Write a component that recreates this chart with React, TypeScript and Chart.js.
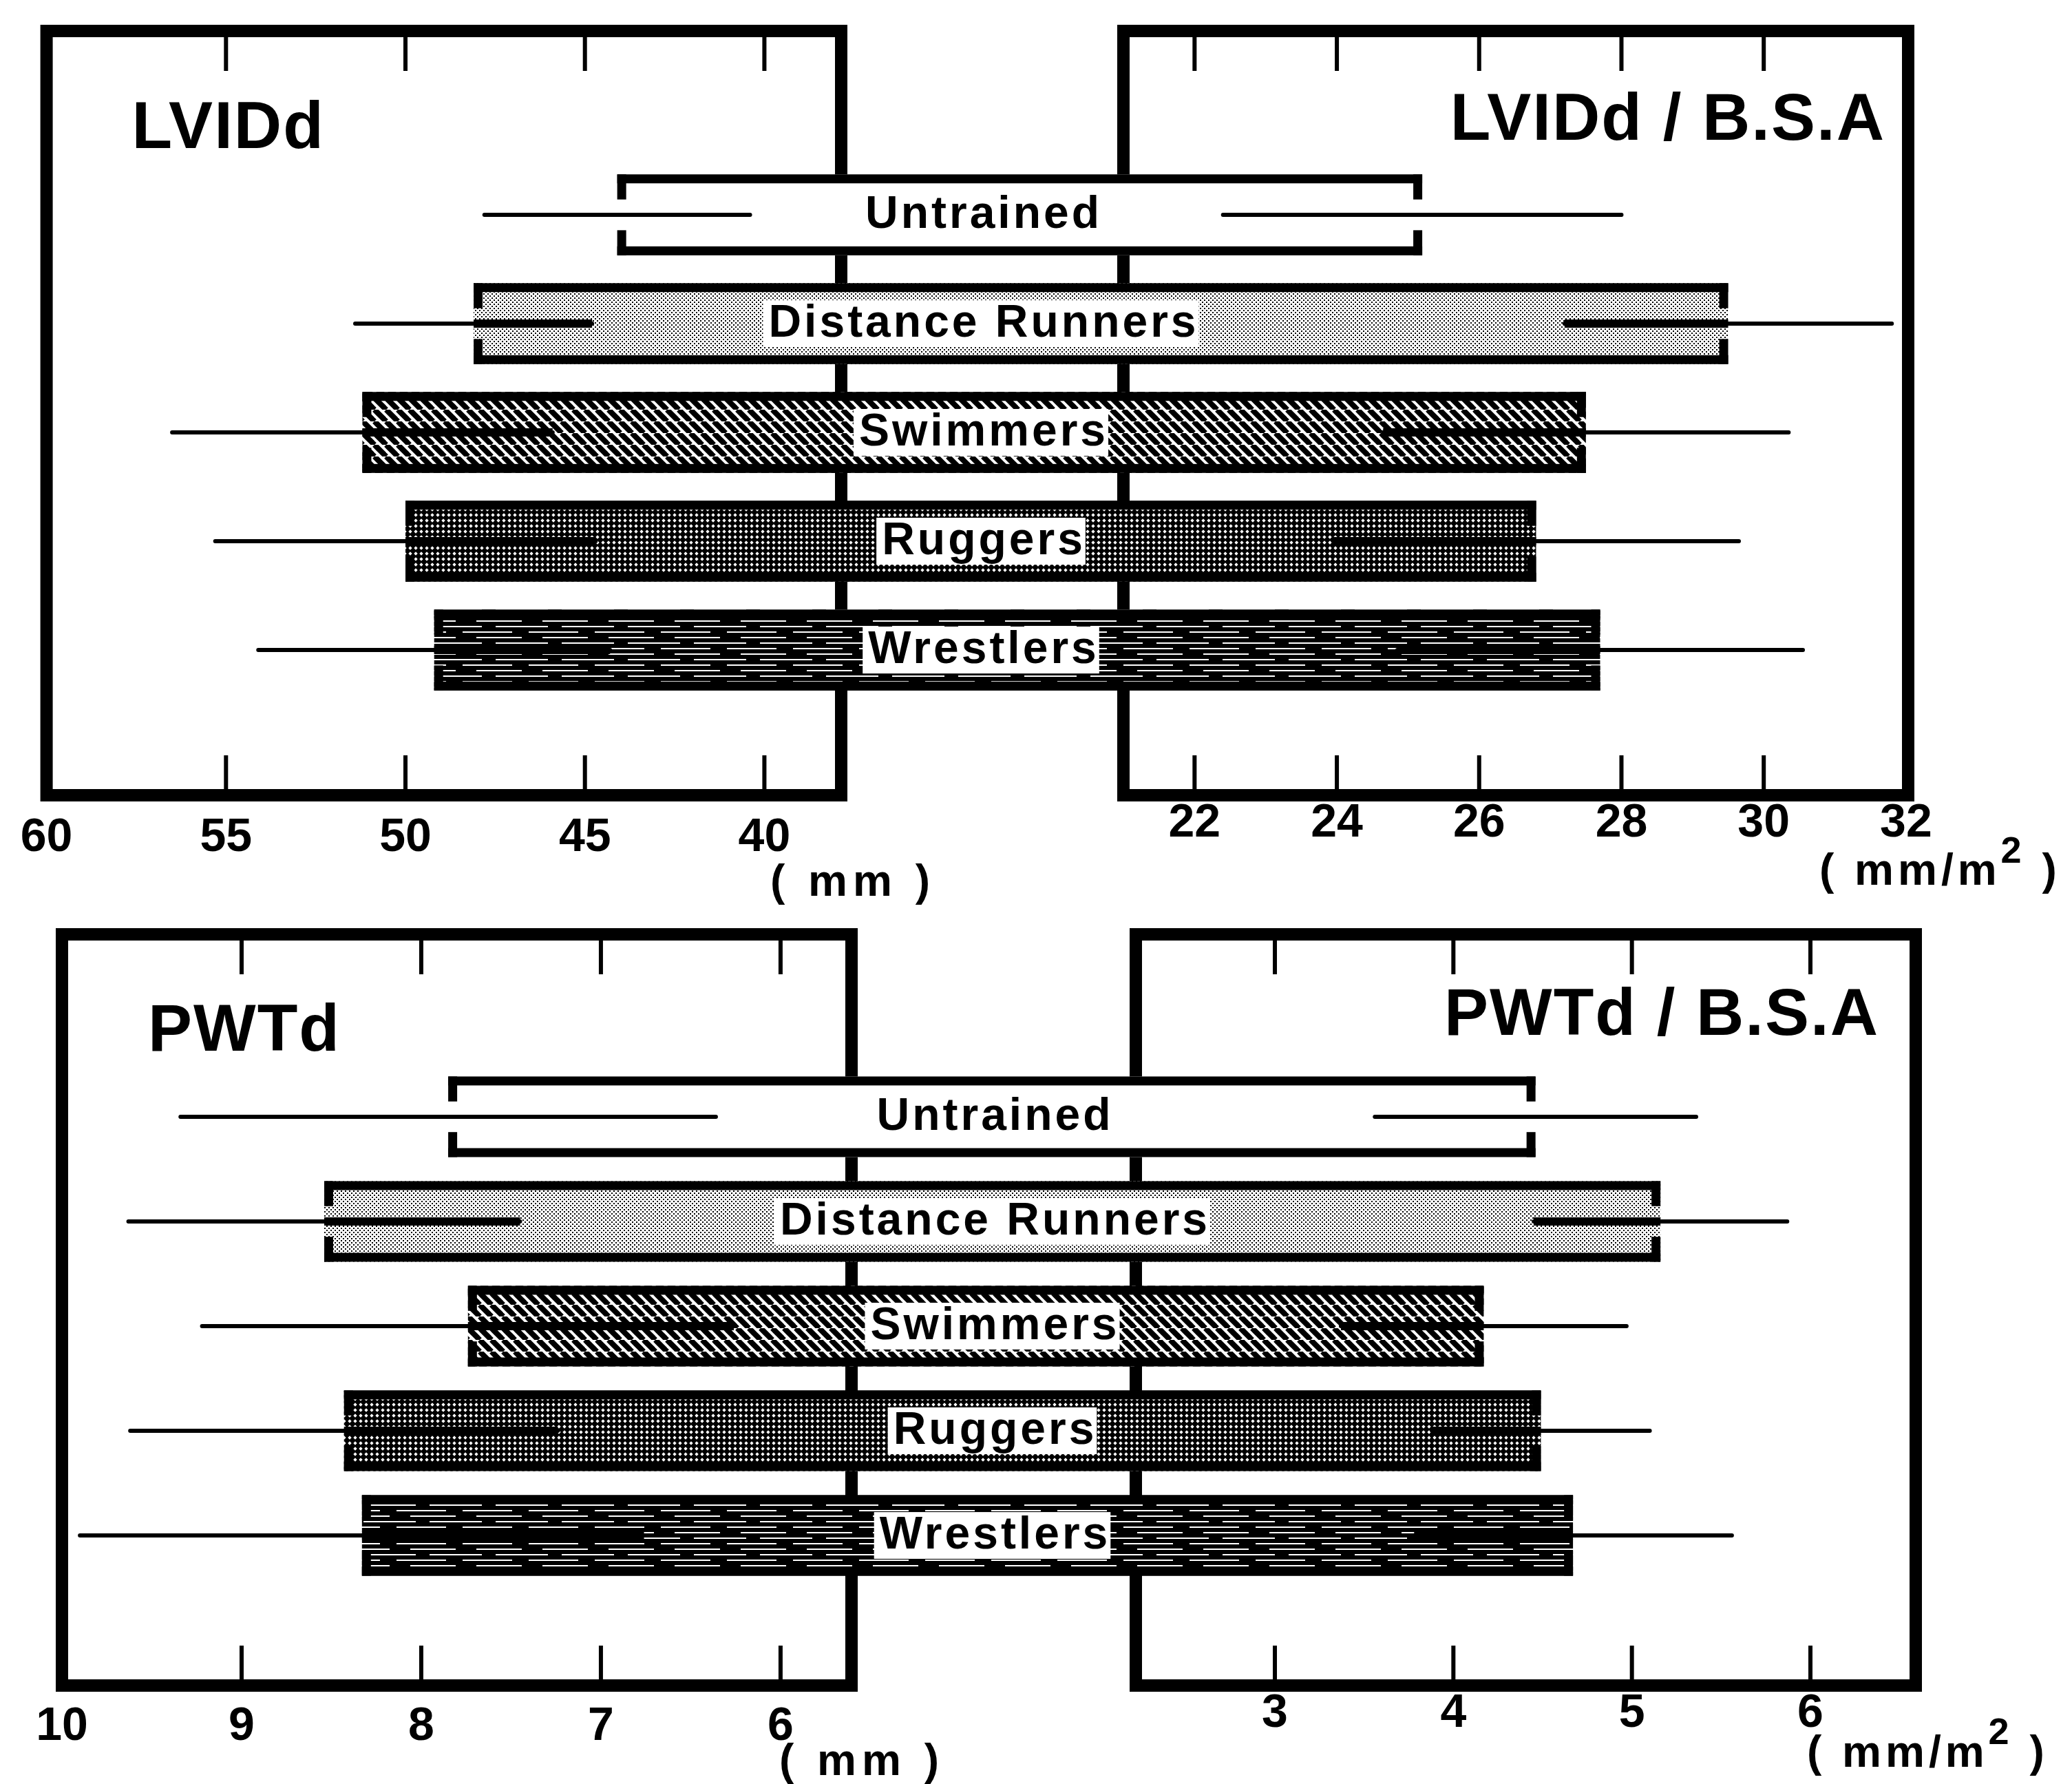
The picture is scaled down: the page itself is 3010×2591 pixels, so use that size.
import React, { useEffect, useRef } from 'react';
import { Chart, registerables } from 'chart.js';

Chart.register(...registerables);

// ---------------- data ----------------
const GROUPS = ['Untrained', 'Distance Runners', 'Swimmers', 'Ruggers', 'Wrestlers'];
const FILLS = ['none', 'stipple', 'hatch', 'cross', 'lines'];

// LVIDd (mm) and LVIDd / B.S.A (mm/m2): mean and SD
const LVIDD_MEAN = [44.1, 48.1, 51.2, 50.0, 49.2];
const LVIDD_SD = [3.7, 3.3, 5.3, 5.3, 4.9];
const LVIDD_BSA_MEAN = [25.2, 29.5, 27.5, 26.8, 27.7];
const LVIDD_BSA_SD = [2.8, 2.3, 2.85, 2.85, 2.85];

// PWTd (mm) and PWTd / B.S.A (mm/m2): mean and SD
const PWTD_MEAN = [7.85, 8.54, 7.74, 8.43, 8.33];
const PWTD_SD = [1.49, 1.09, 1.48, 1.19, 1.57];
const PWTD_BSA_MEAN = [4.46, 5.16, 4.17, 4.49, 4.67];
const PWTD_BSA_SD = [0.9, 0.71, 0.8, 0.61, 0.89];

// tick labels
const LVIDD_TICKS = [60, 55, 50, 45, 40];
const LVIDD_BSA_TICKS = [22, 24, 26, 28, 30, 32];
const PWTD_TICKS = [10, 9, 8, 7, 6];
const PWTD_BSA_TICKS = [3, 4, 5, 6];

const FONT = '"Liberation Sans", Arial, Helvetica, sans-serif';
Chart.defaults.font.family = FONT;

// ---------------- panel specs ----------------
const TOP = {
  canvasTop: 0,
  canvasHeight: 1330,
  meanL: LVIDD_MEAN, sdL: LVIDD_SD, meanR: LVIDD_BSA_MEAN, sdR: LVIDD_BSA_SD,
  ticksL: LVIDD_TICKS, ticksR: LVIDD_BSA_TICKS,
  minL: 37.86, maxL: 60, minR: 21, maxR: 32.03,
  titleL: 'LVIDd', titleR: 'LVIDd / B.S.A',
  unitL: '( mm )', unitR: ['( mm/m', '2', ' )'],
  style: {
    padL: 67.6, padR: 238, padT: 45, axisH: 175,
    wL: 1154.4, wG: 410, wR: 1140,
    yMin: -1.69, yMax: 5.335, barHalf: 0.372,
    tickPadL: 21, tickPadR: 0,
    titleLdx: 124, titleLy: 215, titleRdx: -33, titleRy: 203,
    unitLdx: 17, unitLy: 1301, unitRdx: -129, unitRy: 1285, supRise: 32,
  },
};

const BOTTOM = {
  canvasTop: 1300,
  canvasHeight: 1291,
  meanL: PWTD_MEAN, sdL: PWTD_SD, meanR: PWTD_BSA_MEAN, sdR: PWTD_BSA_SD,
  ticksL: PWTD_TICKS, ticksR: PWTD_BSA_TICKS,
  minL: 5.605, maxL: 10, minR: 2.221, maxR: 6.59,
  titleL: 'PWTd', titleR: 'PWTd / B.S.A',
  unitL: '( mm )', unitR: ['( mm/m', '2', ' )'],
  style: {
    padL: 90, padR: 227, padT: 57, axisH: 143,
    wL: 1147, wG: 413, wR: 1133,
    yMin: -1.743, yMax: 5.434, barHalf: 0.385,
    tickPadL: 19, tickPadR: 0,
    titleLdx: 125, titleLy: 226, titleRdx: -53, titleRy: 203,
    unitLdx: 15, unitLy: 1278, unitRdx: -158, unitRy: 1266, supRise: 33,
  },
};

const BOX_LINE = 18;
const TICK_LINE = 6;
const TICK_LEN = 58;
const BAR_BORDER = 13;
const CAP_W = 13;
const CAP_GAP = 0.38;
const ERR_W = 6;
const ERR_INNER_W = 12;

// ---------------- patterns ----------------
function makePattern(ctx: CanvasRenderingContext2D, kind: string): any {
  if (kind === 'none') return '#ffffff';
  const c = document.createElement('canvas');
  const g = c.getContext('2d') as CanvasRenderingContext2D;
  if (kind === 'stipple') {
    c.width = 6; c.height = 6;
    g.fillStyle = '#fff'; g.fillRect(0, 0, 6, 6);
    g.fillStyle = '#000'; g.fillRect(0, 0, 2, 2); g.fillRect(3, 3, 2, 2);
  } else if (kind === 'hatch') {
    const s = 17; c.width = s; c.height = s;
    g.fillStyle = '#fff'; g.fillRect(0, 0, s, s);
    g.strokeStyle = '#000'; g.lineWidth = 8;
    for (const o of [-s, 0, s]) { g.beginPath(); g.moveTo(o, 0); g.lineTo(o + s, s); g.stroke(); }
  } else if (kind === 'cross') {
    c.width = 8; c.height = 8;
    g.fillStyle = '#000'; g.fillRect(0, 0, 8, 8);
    g.fillStyle = '#fff';
    g.beginPath(); g.moveTo(4, 1.3); g.lineTo(6.7, 4); g.lineTo(4, 6.7); g.lineTo(1.3, 4); g.closePath(); g.fill();
  } else if (kind === 'lines') {
    c.width = 96; c.height = 24;
    g.fillStyle = '#000'; g.fillRect(0, 0, 96, 24);
    g.fillStyle = '#fff';
    g.fillRect(0, 5, 72, 2); g.fillRect(20, 13, 66, 2); g.fillRect(48, 21, 48, 2); g.fillRect(0, 21, 28, 2);
  }
  return ctx.createPattern(c, 'repeat');
}

// ---------------- plugin ----------------
function makeDecor(spec: any) {
  const S = spec.style;
  let patterns: any[] | null = null;
  return {
    id: 'decor',
    beforeDatasetsDraw(chart: any) {
      const { ctx, chartArea: ca } = chart;
      const { xL, xR, y } = chart.scales;
      if (!patterns) patterns = FILLS.map((k) => makePattern(ctx, k));
      ctx.save();
      ctx.strokeStyle = '#000';
      ctx.lineJoin = 'miter';
      for (const s of [xL, xR]) {
        ctx.lineWidth = BOX_LINE;
        ctx.strokeRect(s.left, ca.top, s.right - s.left, ca.bottom - ca.top);
        ctx.lineWidth = TICK_LINE;
        ctx.lineCap = 'butt';
        for (const t of s.ticks) {
          const px = s.getPixelForValue(t.value);
          if (px < s.left + 25 || px > s.right - 25) continue;
          ctx.beginPath();
          ctx.moveTo(px, ca.bottom); ctx.lineTo(px, ca.bottom - TICK_LEN);
          ctx.moveTo(px, ca.top); ctx.lineTo(px, ca.top + TICK_LEN);
          ctx.stroke();
        }
      }
      spec.meanL.forEach((mL: number, i: number) => {
        const mR = spec.meanR[i];
        const yTop = y.getPixelForValue(i - S.barHalf);
        const yBot = y.getPixelForValue(i + S.barHalf);
        const yc = y.getPixelForValue(i);
        const xa = xL.getPixelForValue(mL);
        const xb = xR.getPixelForValue(mR);
        const h = yBot - yTop;
        ctx.fillStyle = patterns![i];
        ctx.fillRect(xa, yTop, xb - xa, h);
        if (FILLS[i] !== 'none') {
          ctx.strokeStyle = '#000';
          ctx.lineWidth = ERR_INNER_W;
          ctx.lineCap = 'butt';
          ctx.beginPath();
          ctx.moveTo(xa, yc); ctx.lineTo(xL.getPixelForValue(mL - spec.sdL[i]), yc);
          ctx.moveTo(xR.getPixelForValue(mR - spec.sdR[i]), yc); ctx.lineTo(xb, yc);
          ctx.stroke();
        }
        ctx.fillStyle = '#000';
        ctx.fillRect(xa, yTop, xb - xa, BAR_BORDER);
        ctx.fillRect(xa, yBot - BAR_BORDER, xb - xa, BAR_BORDER);
        const capLen = (h * (1 - CAP_GAP)) / 2;
        for (const cx of [xa, xb - CAP_W]) {
          ctx.fillRect(cx, yTop, CAP_W, capLen);
          ctx.fillRect(cx, yBot - capLen, CAP_W, capLen);
        }
      });
      ctx.restore();
    },
    afterDatasetsDraw(chart: any) {
      const { ctx } = chart;
      const { xG, y } = chart.scales;
      ctx.save();
      ctx.font = `bold 66px ${FONT}`;
      (ctx as any).letterSpacing = '4px';
      ctx.textAlign = 'center';
      ctx.textBaseline = 'middle';
      const cx = xG.getPixelForValue(0.5);
      GROUPS.forEach((name, i) => {
        const yc = y.getPixelForValue(i);
        const hBar = y.getPixelForValue(i + S.barHalf) - y.getPixelForValue(i - S.barHalf);
        const bh = hBar * 0.58;
        const w = ctx.measureText(name).width;
        ctx.fillStyle = '#fff';
        ctx.fillRect(cx - w / 2 - 6, yc - bh / 2, w + 8, bh);
        ctx.fillStyle = '#000';
        ctx.fillText(name, cx + 2, yc + 1);
      });
      (ctx as any).letterSpacing = '0px';
      ctx.restore();
    },
    afterDraw(chart: any) {
      const { ctx } = chart;
      const { xL, xR } = chart.scales;
      ctx.save();
      ctx.fillStyle = '#000';
      ctx.textBaseline = 'alphabetic';
      ctx.font = `bold 96px ${FONT}`;
      (ctx as any).letterSpacing = '2px';
      ctx.textAlign = 'left';
      ctx.fillText(spec.titleL, xL.left + S.titleLdx, S.titleLy);
      ctx.textAlign = 'right';
      ctx.fillText(spec.titleR, xR.right + S.titleRdx, S.titleRy);
      // units
      ctx.font = `bold 64px ${FONT}`;
      (ctx as any).letterSpacing = '8px';
      ctx.textAlign = 'center';
      ctx.fillText(spec.unitL, xL.right + S.unitLdx, S.unitLy);
      (ctx as any).letterSpacing = '6px';
      ctx.textAlign = 'left';
      let x = xR.right + S.unitRdx;
      const [a, b, c] = spec.unitR;
      ctx.fillText(a, x, S.unitRy);
      x += ctx.measureText(a).width;
      ctx.font = `bold 54px ${FONT}`;
      ctx.fillText(b, x, S.unitRy - S.supRise);
      x += ctx.measureText(b).width;
      ctx.font = `bold 64px ${FONT}`;
      ctx.fillText(c, x, S.unitRy);
      (ctx as any).letterSpacing = '0px';
      ctx.restore();
    },
  };
}

// ---------------- config ----------------
function buildConfig(spec: any) {
  const S = spec.style;
  const lineStyle = {
    borderColor: '#000',
    borderWidth: ERR_W,
    pointRadius: 0,
    borderCapStyle: 'round',
    fill: false,
    clip: false,
    tension: 0,
  };
  const datasets: any[] = [];
  spec.meanL.forEach((m: number, i: number) => {
    datasets.push({
      ...lineStyle,
      label: GROUPS[i] + ' (mm)',
      xAxisID: 'xL',
      yAxisID: 'y',
      data: [{ x: m - spec.sdL[i], y: i }, { x: m + spec.sdL[i], y: i }],
    });
  });
  spec.meanR.forEach((m: number, i: number) => {
    datasets.push({
      ...lineStyle,
      label: GROUPS[i] + ' (mm/m2)',
      xAxisID: 'xR',
      yAxisID: 'y',
      data: [{ x: m - spec.sdR[i], y: i }, { x: m + spec.sdR[i], y: i }],
    });
  });

  const fixH = (s: any) => { s.height = S.axisH; };
  const tickFont = { size: 68, family: FONT, weight: 'bold' };
  const common = {
    type: 'linear',
    axis: 'x',
    position: 'bottom',
    stack: 'row',
    bounds: 'data',
    grid: { display: false, drawTicks: false },
    border: { display: false },
    afterFit: fixH,
  };

  return {
    type: 'line',
    data: { datasets },
    options: {
      animation: false,
      responsive: false,
      devicePixelRatio: 1,
      events: [],
      layout: { padding: { left: S.padL, right: S.padR, top: S.padT, bottom: 0 } },
      plugins: { legend: { display: false }, tooltip: { enabled: false }, title: { display: false } },
      scales: {
        xL: {
          ...common,
          weight: 0,
          stackWeight: S.wL,
          reverse: true,
          min: spec.minL,
          max: spec.maxL,
          ticks: { autoSkip: false, maxRotation: 0, minRotation: 0, padding: S.tickPadL, font: tickFont, color: '#000', callback: (v: any) => String(v) },
          afterBuildTicks: (s: any) => { s.ticks = spec.ticksL.map((v: number) => ({ value: v })); },
        },
        xG: {
          ...common,
          weight: 1,
          stackWeight: S.wG,
          min: 0,
          max: 1,
          ticks: { display: false },
        },
        xR: {
          ...common,
          weight: 2,
          stackWeight: S.wR,
          min: spec.minR,
          max: spec.maxR,
          ticks: { autoSkip: false, maxRotation: 0, minRotation: 0, padding: S.tickPadR, font: tickFont, color: '#000', callback: (v: any) => String(v) },
          afterBuildTicks: (s: any) => { s.ticks = spec.ticksR.map((v: number) => ({ value: v })); },
        },
        y: {
          type: 'linear',
          axis: 'y',
          position: 'left',
          display: false,
          reverse: true,
          min: S.yMin,
          max: S.yMax,
        },
      },
    },
    plugins: [makeDecor(spec)],
  };
}

function PanelChart({ spec }: { spec: any }) {
  const ref = useRef<HTMLCanvasElement | null>(null);
  useEffect(() => {
    const chart = new Chart(ref.current as HTMLCanvasElement, buildConfig(spec) as any);
    return () => chart.destroy();
  }, [spec]);
  return (
    <canvas
      ref={ref}
      width={3010}
      height={spec.canvasHeight}
      style={{ position: 'absolute', left: 0, top: spec.canvasTop, width: 3010, height: spec.canvasHeight }}
    />
  );
}

export default function App() {
  return (
    <div style={{ position: 'absolute', left: 0, top: 0, width: 3010, height: 2591, background: '#fff', overflow: 'hidden' }}>
      <PanelChart spec={TOP} />
      <PanelChart spec={BOTTOM} />
    </div>
  );
}
